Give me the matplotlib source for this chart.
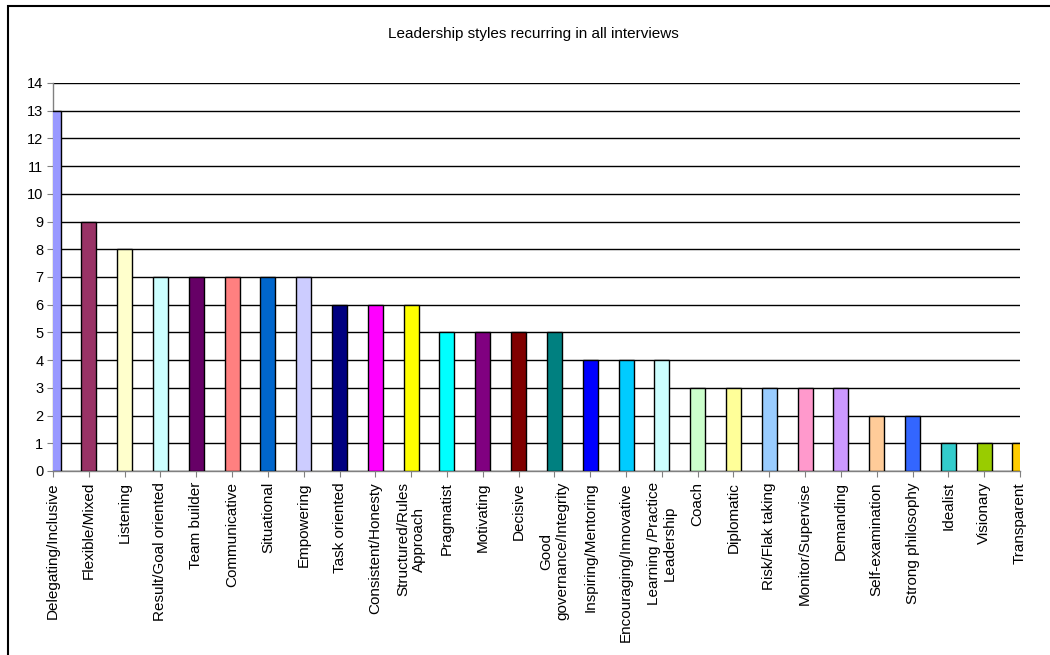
import matplotlib
matplotlib.use("Agg")
import matplotlib.pyplot as plt
from matplotlib.patches import Rectangle

plt.rcParams['font.family'] = ['Liberation Sans', 'DejaVu Sans']

# --- data ---
styles = [
    "Delegating/Inclusive", "Flexible/Mixed", "Listening", "Result/Goal oriented",
    "Team builder", "Communicative", "Situational", "Empowering", "Task oriented",
    "Consistent/Honesty", "Structured/Rules\nApproach", "Pragmatist", "Motivating",
    "Decisive", "Good\ngovernance/Integrity", "Inspiring/Mentoring",
    "Encouraging/Innovative", "Learning /Practice\nLeadership", "Coach", "Diplomatic",
    "Risk/Flak taking", "Monitor/Supervise", "Demanding", "Self-examination",
    "Strong philosophy", "Idealist", "Visionary", "Transparent",
]
counts = [13, 9, 8, 7, 7, 7, 7, 7, 6, 6, 6, 5, 5, 5, 5, 4, 4, 4, 3, 3, 3, 3, 3, 2, 2, 1, 1, 1]
colors = [
    "#9999FF", "#993366", "#FFFFCC", "#CCFFFF", "#660066", "#FF8080", "#0066CC",
    "#CCCCFF", "#000080", "#FF00FF", "#FFFF00", "#00FFFF", "#800080", "#800000",
    "#008080", "#0000FF", "#00CCFF", "#CCFFFF", "#CCFFCC", "#FFFF99", "#99CCFF",
    "#FF99CC", "#CC99FF", "#FFCC99", "#3366FF", "#33CCCC", "#99CC00", "#FFCC00",
]
y_ticks = list(range(0, 15))

fig = plt.figure(figsize=(10.5, 6.55), dpi=100)
ax = fig.add_axes([53 / 1050, 184 / 655, (1020 - 53) / 1050, (471 - 83) / 655])

x = list(range(len(styles)))
ax.bar(x, counts, width=0.42, color=colors, edgecolor='black', linewidth=1.0, zorder=3)

ax.set_xlim(0, len(styles) - 1)
ax.set_ylim(0, 14)
ax.set_yticks(y_ticks)
ax.yaxis.grid(True, color='black', linewidth=1.0, zorder=0)
ax.set_axisbelow(True)

ax.set_xticks(x)
ax.set_xticklabels(styles, rotation=90, ha='center', va='top',
                   multialignment='center', fontsize=11)
ax.tick_params(axis='y', labelsize=10.5, length=4, color='#808080', pad=3)
ax.tick_params(axis='x', length=4, color='#808080', pad=4)

for side in ['top', 'right']:
    ax.spines[side].set_visible(False)
for side in ['left', 'bottom']:
    ax.spines[side].set_color('#808080')
    ax.spines[side].set_linewidth(1.0)

fig.text(533 / 1050, 1 - 34 / 655, "Leadership styles recurring in all interviews",
         ha='center', va='center', fontsize=11)

# outer chart frame (only top/left edges visible in the crop)
fig.patches.append(Rectangle((8 / 1050, -0.1), 1.2, 1.1 - 6 / 655,
                             transform=fig.transFigure, fill=False,
                             edgecolor='black', linewidth=1.5))

fig.savefig("out.png", dpi=100)
